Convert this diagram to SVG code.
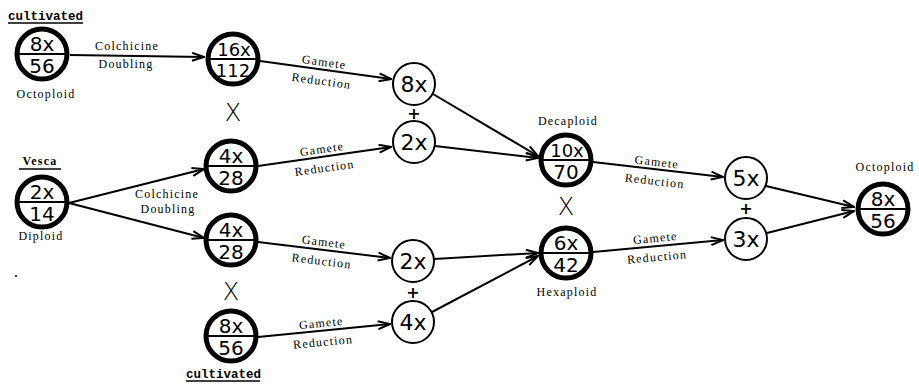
<svg xmlns="http://www.w3.org/2000/svg" width="919" height="384" viewBox="0 0 919 384">
<defs>
<marker id="arr" viewBox="0 0 14 10" refX="13" refY="5" markerWidth="14" markerHeight="10" markerUnits="userSpaceOnUse" orient="auto">
<path d="M1,1 L13,5 L1,9" fill="none" stroke="#000" stroke-width="2"/>
</marker>
<style>
.thick{fill:#fff;stroke:#000;stroke-width:5}
.thin{fill:#fff;stroke:#000;stroke-width:2}
.div{stroke:#000;stroke-width:2}
.num{font-family:"DejaVu Sans",sans-serif;font-size:20px;text-anchor:middle;fill:#000}
.num3{font-size:18px}
.gnum{font-family:"DejaVu Sans",sans-serif;font-size:22px;text-anchor:middle;fill:#000}
.lbl{font-family:"Liberation Serif","DejaVu Serif",serif;font-size:12px;letter-spacing:1.2px;text-anchor:middle;fill:#000}
.cult{font-family:"Liberation Mono","DejaVu Sans Mono",monospace;font-size:12.5px;font-weight:bold;fill:#000}
.ul{stroke:#000;stroke-width:1.5}
.cross{font-family:"DejaVu Sans",sans-serif;font-size:24px;font-weight:300;text-anchor:middle;fill:#000}
.plus{font-family:"DejaVu Sans",sans-serif;font-size:16px;font-weight:bold;text-anchor:middle;fill:#000}
.edge{fill:none;stroke:#000;stroke-width:2;marker-end:url(#arr)}
</style>
</defs>
<rect width="919" height="384" fill="#fff"/>

<g id="connectors">
<line class="edge" x1="70" y1="55" x2="204" y2="57"/>
<line class="edge" x1="69" y1="203" x2="204" y2="169"/>
<line class="edge" x1="69" y1="203" x2="204" y2="238"/>
<line class="edge" x1="260" y1="61" x2="391" y2="79"/>
<line class="edge" x1="258" y1="166" x2="391" y2="147"/>
<line class="edge" x1="258" y1="242" x2="390" y2="258"/>
<line class="edge" x1="258" y1="337" x2="390" y2="324"/>
<line class="edge" x1="433" y1="94" x2="538" y2="156"/>
<line class="edge" x1="435" y1="146" x2="538" y2="158"/>
<line class="edge" x1="434" y1="259" x2="538" y2="253"/>
<line class="edge" x1="432" y1="312" x2="538" y2="256"/>
<line class="edge" x1="593" y1="162" x2="723" y2="177"/>
<line class="edge" x1="593" y1="252" x2="723" y2="240"/>
<line class="edge" x1="766" y1="186" x2="854" y2="207"/>
<line class="edge" x1="767" y1="233" x2="854" y2="211"/>
</g>

<g id="edge-labels">
<text class="lbl" x="127" y="50">Colchicine</text>
<text class="lbl" x="126" y="68">Doubling</text>
<text class="lbl" x="167" y="198">Colchicine</text>
<text class="lbl" x="168" y="213">Doubling</text>
<g transform="translate(323,70) rotate(7.8)"><text class="lbl" x="0" y="-4">Gamete</text><text class="lbl" x="0" y="15">Reduction</text></g>
<g transform="translate(323,157) rotate(-8.1)"><text class="lbl" x="0" y="-4">Gamete</text><text class="lbl" x="0" y="15">Reduction</text></g>
<g transform="translate(323,250) rotate(6.9)"><text class="lbl" x="0" y="-4">Gamete</text><text class="lbl" x="0" y="15">Reduction</text></g>
<g transform="translate(322,331) rotate(-5.6)"><text class="lbl" x="0" y="-4">Gamete</text><text class="lbl" x="0" y="15">Reduction</text></g>
<g transform="translate(656,170) rotate(6.6)"><text class="lbl" x="0" y="-4">Gamete</text><text class="lbl" x="0" y="15">Reduction</text></g>
<g transform="translate(656,246) rotate(-5.3)"><text class="lbl" x="0" y="-4">Gamete</text><text class="lbl" x="0" y="15">Reduction</text></g>
</g>

<g id="node-cultivated-8x">
<text class="cult" x="8" y="20">cultivated</text>
<line class="ul" x1="8" y1="23" x2="83" y2="23"/>
<circle class="thick" cx="42" cy="54" r="25"/>
<line class="div" x1="17" y1="54" x2="67" y2="54"/>
<text class="num" x="42" y="51">8x</text>
<text class="num" x="42" y="73">56</text>
<text class="lbl" x="46" y="98">Octoploid</text>
</g>

<g id="node-vesca-2x">
<text class="lbl" x="40" y="165" style="font-weight:bold">Vesca</text>
<line class="ul" x1="19" y1="169" x2="61" y2="169"/>
<circle class="thick" cx="42" cy="202" r="25"/>
<line class="div" x1="17" y1="202" x2="67" y2="202"/>
<text class="num" x="42" y="199">2x</text>
<text class="num" x="42" y="221">14</text>
<text class="lbl" x="41" y="240">Diploid</text>
</g>

<g id="node-16x">
<circle class="thick" cx="233" cy="59" r="25"/>
<line class="div" x1="208" y1="59" x2="258" y2="59"/>
<text class="num num3" x="234" y="56">16x</text>
<text class="num num3" x="233" y="77">112</text>
</g>

<g id="node-4x-a">
<circle class="thick" cx="231" cy="166" r="25"/>
<line class="div" x1="206" y1="166" x2="256" y2="166"/>
<text class="num" x="231" y="163">4x</text>
<text class="num" x="231" y="185">28</text>
</g>

<g id="node-4x-b">
<circle class="thick" cx="231" cy="240" r="25"/>
<line class="div" x1="206" y1="240" x2="256" y2="240"/>
<text class="num" x="231" y="237">4x</text>
<text class="num" x="231" y="259">28</text>
</g>

<g id="node-cultivated-8x-b">
<circle class="thick" cx="231" cy="336" r="25"/>
<line class="div" x1="206" y1="336" x2="256" y2="336"/>
<text class="num" x="231" y="333">8x</text>
<text class="num" x="231" y="355">56</text>
<text class="cult" x="186" y="378">cultivated</text>
<line class="ul" x1="186" y1="381" x2="260" y2="381"/>
</g>

<g id="cross-1"><text class="cross" x="233" y="121">X</text></g>
<g id="cross-2"><text class="cross" x="231" y="300">X</text></g>
<g id="cross-3"><text class="cross" x="566" y="215">X</text></g>

<g id="gamete-8x">
<circle class="thin" cx="414" cy="84" r="21"/>
<text class="gnum" x="414" y="92">8x</text>
</g>
<g id="plus-1"><text class="plus" x="414" y="119">+</text></g>
<g id="gamete-2x-a">
<circle class="thin" cx="414" cy="142" r="21"/>
<text class="gnum" x="414" y="150">2x</text>
</g>

<g id="gamete-2x-b">
<circle class="thin" cx="413" cy="261" r="21"/>
<text class="gnum" x="413" y="269">2x</text>
</g>
<g id="plus-2"><text class="plus" x="413" y="298">+</text></g>
<g id="gamete-4x">
<circle class="thin" cx="413" cy="322" r="21"/>
<text class="gnum" x="413" y="330">4x</text>
</g>

<g id="node-decaploid">
<text class="lbl" x="568" y="125">Decaploid</text>
<circle class="thick" cx="566" cy="160" r="25"/>
<line class="div" x1="541" y1="160" x2="591" y2="160"/>
<text class="num num3" x="567" y="157">10x</text>
<text class="num" x="566" y="179">70</text>
</g>

<g id="node-hexaploid">
<circle class="thick" cx="566" cy="253" r="25"/>
<line class="div" x1="541" y1="253" x2="591" y2="253"/>
<text class="num" x="566" y="250">6x</text>
<text class="num" x="566" y="272">42</text>
<text class="lbl" x="567" y="296">Hexaploid</text>
</g>

<g id="gamete-5x">
<circle class="thin" cx="746" cy="178" r="21"/>
<text class="gnum" x="746" y="186">5x</text>
</g>
<g id="plus-3"><text class="plus" x="746" y="214">+</text></g>
<g id="gamete-3x">
<circle class="thin" cx="746" cy="239" r="21"/>
<text class="gnum" x="746" y="247">3x</text>
</g>

<g id="node-octoploid">
<text class="lbl" x="885" y="171">Octoploid</text>
<circle class="thick" cx="883" cy="209" r="25"/>
<line class="div" x1="858" y1="209" x2="908" y2="209"/>
<text class="num" x="883" y="206">8x</text>
<text class="num" x="883" y="228">56</text>
</g>

<circle cx="16" cy="276" r="1" fill="#000"/>
</svg>
